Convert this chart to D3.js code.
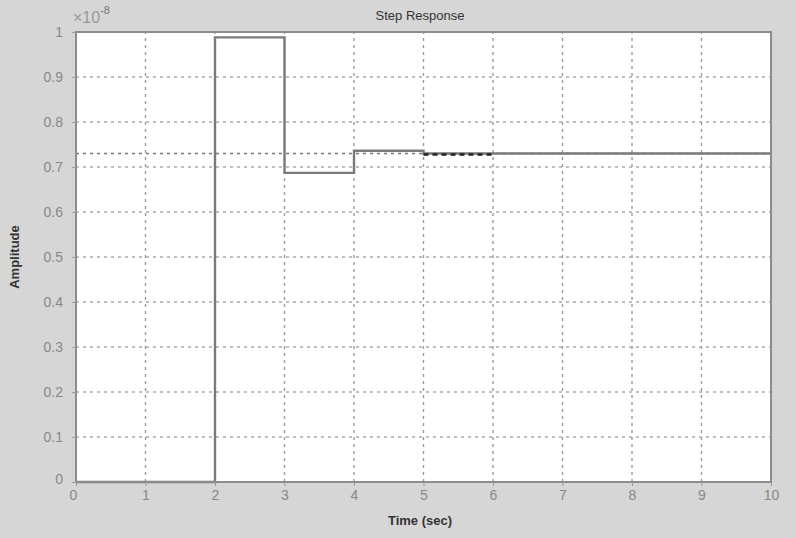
<!DOCTYPE html>
<html><head><meta charset="utf-8">
<script src="https://cdn.jsdelivr.net/npm/d3@7"></script>
<style>body{margin:0;background:#d6d6d6;} svg{display:block;}</style>
</head><body>
<svg id="c" width="796" height="538"></svg>
<script>
// Step response (discrete, ×10^-8)
const stepTimes = [0, 2, 3, 4, 5, 10];
const stepValues = [0, 0.988, 0.687, 0.736, 0.730, 0.730];
const steadyValue = 0.730;
const dashedSegment = [5, 6];
const xTicks = [0,1,2,3,4,5,6,7,8,9,10];
const yTicks = [0,0.1,0.2,0.3,0.4,0.5,0.6,0.7,0.8,0.9,1];
const yTickLabels = ["0","0.1","0.2","0.3","0.4","0.5","0.6","0.7","0.8","0.9","1"];

const W = 796, H = 538;
const m = {left:76, right:25, top:32, bottom:56};
const svg = d3.select("#c");
svg.append("rect").attr("width",W).attr("height",H).attr("fill","#d6d6d6");

const x = d3.scaleLinear().domain([0,10]).range([m.left, W-m.right]);
const y = d3.scaleLinear().domain([0,1]).range([H-m.bottom, m.top]);

svg.append("rect").attr("x",x(0)).attr("y",y(1)).attr("width",x(10)-x(0)).attr("height",y(0)-y(1)).attr("fill","#fff");

// grid
svg.append("g").selectAll("line").data(xTicks.slice(1,-1)).join("line")
  .attr("x1",d=>x(d)).attr("x2",d=>x(d)).attr("y1",y(0)).attr("y2",y(1))
  .attr("stroke","#999").attr("stroke-width",1.4).attr("stroke-dasharray","3,4");
svg.append("g").selectAll("line").data(yTicks.slice(1,-1)).join("line")
  .attr("x1",x(0)).attr("x2",x(10)).attr("y1",d=>y(d)).attr("y2",d=>y(d))
  .attr("stroke","#aaa").attr("stroke-width",1.4).attr("stroke-dasharray","3,4");

// steady state line
svg.append("line").attr("x1",x(0)).attr("x2",x(10)).attr("y1",y(steadyValue)).attr("y2",y(steadyValue))
  .attr("stroke","#777").attr("stroke-width",1.6).attr("stroke-dasharray","3,4");

// response
const pts = stepTimes.map((t,i)=>[t, stepValues[i]]);
const line = d3.line().x(d=>x(d[0])).y(d=>y(d[1])).curve(d3.curveStepAfter);
svg.append("path").datum(pts).attr("d",line).attr("fill","none")
  .attr("stroke","#7a7a7a").attr("stroke-width",2.4);
svg.append("line").attr("x1",x(dashedSegment[0])).attr("x2",x(dashedSegment[1]))
  .attr("y1",y(steadyValue)+1).attr("y2",y(steadyValue)+1)
  .attr("stroke","#222").attr("stroke-width",2.4).attr("stroke-dasharray","5,4");

// frame
svg.append("rect").attr("x",x(0)).attr("y",y(1)).attr("width",x(10)-x(0)).attr("height",y(0)-y(1))
  .attr("fill","none").attr("stroke","#8c8c8c").attr("stroke-width",2);

// axes
const xAxis = d3.axisBottom(x).tickValues(xTicks).tickSize(4).tickPadding(4).tickFormat(d3.format("d"));
const gx = svg.append("g").attr("transform",`translate(0,${y(0)})`).call(xAxis);
const yAxis = d3.axisLeft(y).tickValues(yTicks).tickSize(4).tickPadding(9).tickFormat((d,i)=>yTickLabels[i]);
const gy = svg.append("g").attr("transform",`translate(${x(0)},0)`).call(yAxis);
[gx,gy].forEach(g=>{
  g.select(".domain").remove();
  g.selectAll(".tick line").attr("stroke","#999");
  g.selectAll("text").attr("fill","#888").style("font-family","Liberation Sans, Arial, sans-serif").style("font-size","14px");
});
gx.selectAll(".tick").filter(d=>d===0).select("text").attr("dx","-3");
gy.selectAll(".tick").filter(d=>d===0).select("text").attr("dy","0.1em");

// exponent
const ex = svg.append("text").attr("x",x(0)-3).attr("y",23).attr("fill","#999")
  .style("font-family","Liberation Sans, Arial, sans-serif").style("font-size","16px");
ex.append("tspan").text("×10");
ex.append("tspan").attr("dy",-9).style("font-size","11px").attr("fill","#777").text("-8");

svg.append("text").attr("x",420).attr("y",20).attr("text-anchor","middle").attr("fill","#333")
  .style("font-family","Liberation Sans, Arial, sans-serif").style("font-size","13px").text("Step Response");
svg.append("text").attr("x",420).attr("y",525).attr("text-anchor","middle").attr("fill","#333")
  .style("font-family","Liberation Sans, Arial, sans-serif").style("font-size","13px").style("font-weight","bold").text("Time (sec)");
svg.append("text").attr("transform","translate(19,257) rotate(-90)").attr("text-anchor","middle").attr("fill","#333")
  .style("font-family","Liberation Sans, Arial, sans-serif").style("font-size","13px").style("font-weight","bold").text("Amplitude");
</script>
</body></html>
